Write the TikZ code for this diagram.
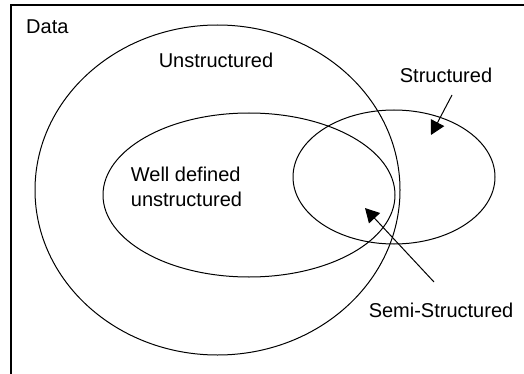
\documentclass[tikz,border=0pt]{standalone}
\usepackage{fontspec}
\setmainfont{Liberation Sans}
\usetikzlibrary{shapes.geometric,arrows.meta}
\begin{document}
\begin{tikzpicture}[x=1pt,y=-1pt,
  set/.style={draw,ellipse,inner sep=0pt,line width=1pt},
  lbl/.style={font=\fontsize{20}{25}\selectfont,inner sep=0pt},
  pointer/.style={line width=1pt,-{Triangle[length=14pt,width=15pt]}}]
  \useasboundingbox (0,0) rectangle (524,374);
  % frame of the data universe
  \draw[line width=1.6pt] (524,5) -- (11,5) -- (11,374);
  \node[lbl,anchor=west] (data) at (26,27) {Data};
  % sets
  \node[set,minimum width=365pt,minimum height=330pt] (unstr) at (217.5,190) {};
  \node[set,minimum width=292pt,minimum height=164pt] (welldef) at (249,195) {};
  \node[set,minimum width=202pt,minimum height=134pt] (struct) at (394,177) {};
  % labels
  \node[lbl] (unstrlbl) at (216,60) {Unstructured};
  \node[lbl,align=left] (welllbl) at (186.5,187) {Well defined\\unstructured};
  \node[lbl] (structlbl) at (446,75) {Structured};
  \node[lbl] (semilbl) at (441,310) {Semi-Structured};
  % pointers
  \coordinate (p1s) at (452,95);
  \coordinate (p1t) at (431,135);
  \coordinate (p2s) at (434,282);
  \coordinate (p2t) at (365,208);
  \draw[pointer] (p1s) -- (p1t);
  \draw[pointer] (p2s) -- (p2t);
\end{tikzpicture}
\end{document}
